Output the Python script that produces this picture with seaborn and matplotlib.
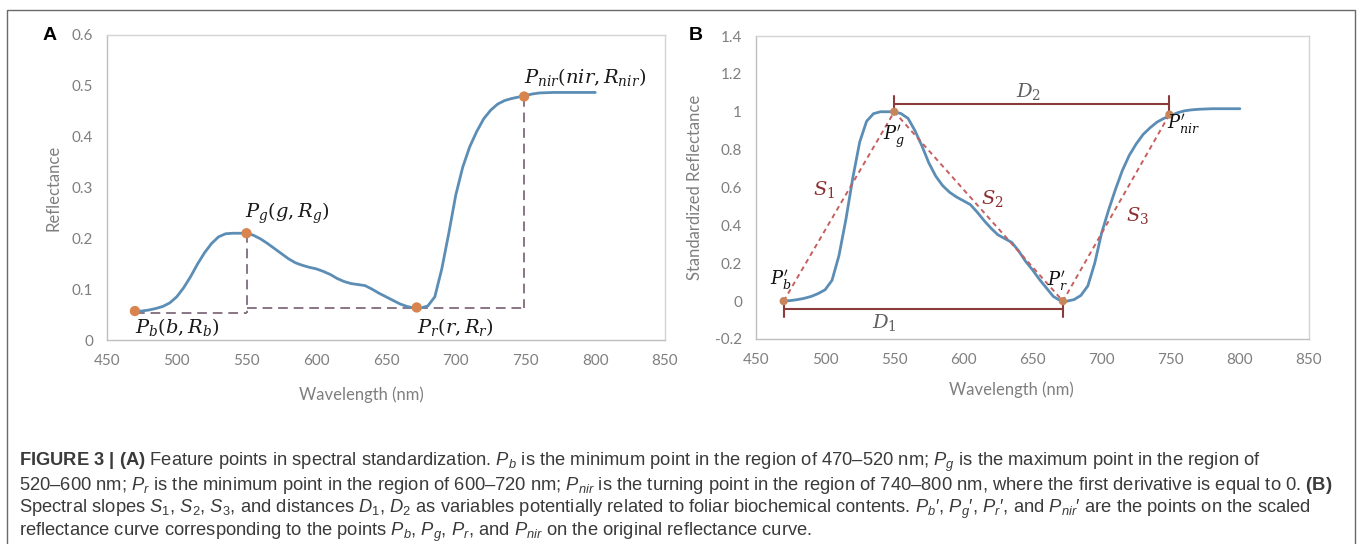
import matplotlib
matplotlib.use("Agg")
import matplotlib.pyplot as plt
import seaborn as sns
from matplotlib.lines import Line2D

# ---------------- data ----------------
wavelength_a = [470, 475, 480, 485, 490, 495, 500, 505, 510, 515, 520, 525, 530, 535, 540, 545,
                550, 555, 560, 565, 570, 575, 580, 585, 590, 595, 600, 605, 610, 615, 620, 625,
                630, 635, 640, 645, 650, 655, 660, 665, 670, 675, 680, 685, 690, 695, 700, 705,
                710, 715, 720, 725, 730, 735, 740, 745, 750, 755, 760, 770, 780, 790, 800]
reflectance_a = [0.057, 0.057, 0.059, 0.062, 0.066, 0.073, 0.085, 0.103, 0.125, 0.15, 0.172,
                 0.19, 0.203, 0.209, 0.21, 0.21, 0.21, 0.206, 0.199, 0.19, 0.18, 0.17, 0.16,
                 0.152, 0.147, 0.143, 0.14, 0.135, 0.129, 0.121, 0.115, 0.111, 0.109, 0.107,
                 0.1, 0.092, 0.085, 0.078, 0.071, 0.066, 0.063, 0.063, 0.067, 0.085, 0.14,
                 0.21, 0.285, 0.34, 0.38, 0.41, 0.435, 0.452, 0.464, 0.471, 0.475, 0.478,
                 0.481, 0.484, 0.486, 0.487, 0.487, 0.487, 0.487]

wavelength_b = [470, 475, 480, 485, 490, 495, 500, 505, 510, 515, 520, 525, 530, 535, 540, 545,
                550, 555, 560, 565, 570, 575, 580, 585, 590, 595, 600, 605, 610, 615, 620, 625,
                630, 635, 640, 645, 650, 655, 660, 665, 670, 675, 680, 685, 690, 695, 700, 705,
                710, 715, 720, 725, 730, 735, 740, 745, 750, 755, 760, 765, 770, 780, 790, 800]
std_reflectance_b = [0.0, 0.003, 0.008, 0.015, 0.025, 0.04, 0.06, 0.11, 0.24, 0.43, 0.65,
                     0.84, 0.95, 0.99, 1.0, 1.0, 1.0, 0.99, 0.965, 0.9, 0.82, 0.73, 0.66,
                     0.61, 0.575, 0.55, 0.53, 0.51, 0.47, 0.425, 0.385, 0.35, 0.33, 0.31,
                     0.265, 0.21, 0.165, 0.115, 0.07, 0.025, 0.003, 0.0, 0.008, 0.03, 0.08,
                     0.2, 0.36, 0.48, 0.59, 0.69, 0.77, 0.83, 0.88, 0.915, 0.945, 0.965,
                     0.98, 0.995, 1.005, 1.01, 1.013, 1.016, 1.016, 1.016]

feature_wl = [470, 550, 672, 749]
feature_refl_a = [0.057, 0.21, 0.064, 0.479]
level_rb = 0.054
level_rr = 0.062
feature_std_b = [0.0, 1.0, 0.0, 0.985]
d1_level = -0.043
d2_level = 1.039

x_ticks = [450, 500, 550, 600, 650, 700, 750, 800, 850]
a_yticks = [0, 0.1, 0.2, 0.3, 0.4, 0.5, 0.6]
a_ylabels = ["0", "0.1", "0.2", "0.3", "0.4", "0.5", "0.6"]
b_yticks = [-0.2, 0, 0.2, 0.4, 0.6, 0.8, 1.0, 1.2, 1.4]
b_ylabels = ["-0.2", "0", "0.2", "0.4", "0.6", "0.8", "1", "1.2", "1.4"]

a_point_labels = [r"$P_b(b,R_b)$", r"$P_g(g,R_g)$", r"$P_r(r,R_r)$", r"$P_{nir}(nir,R_{nir})$"]
a_label_pos = [(470, 0.026), (549, 0.249), (672, 0.026), (749, 0.518)]
b_point_labels = [r"$P_b^{\prime}$", r"$P_g^{\prime}$", r"$P_r^{\prime}$", r"$P_{nir}^{\prime}$"]
b_label_pos = [(468, 0.105), (550, 0.864), (668, 0.106), (759, 0.93)]
slope_labels = [r"$S_1$", r"$S_2$", r"$S_3$"]
slope_pos = [(499, 0.59), (621, 0.54), (726, 0.45)]
dist_labels = [r"$D_1$", r"$D_2$"]
dist_pos = [(543, -0.115), (647, 1.105)]

caption_lines = [
    r"$\mathbf{FIGURE\ 3\ |\ (A)}$ Feature points in spectral standardization. $P_b$ is the minimum point in the region of 470–520 nm; $P_g$ is the maximum point in the region of",
    r"520–600 nm; $P_r$ is the minimum point in the region of 600–720 nm; $P_{nir}$ is the turning point in the region of 740–800 nm, where the first derivative is equal to 0. $\mathbf{(B)}$",
    r"Spectral slopes $S_1$, $S_2$, $S_3$, and distances $D_1$, $D_2$ as variables potentially related to foliar biochemical contents. $P_b$′, $P_g$′, $P_r$′, and $P_{nir}$′ are the points on the scaled",
    r"reflectance curve corresponding to the points $P_b$, $P_g$, $P_r$, and $P_{nir}$ on the original reflectance curve.",
]

# ---------------- style ----------------
sns.set_theme(style="white")
plt.rcParams["font.family"] = ["Lato", "DejaVu Sans"]
plt.rcParams["mathtext.fontset"] = "custom"
plt.rcParams["mathtext.rm"] = "Liberation Sans"
plt.rcParams["mathtext.it"] = "Liberation Sans:italic"
plt.rcParams["mathtext.bf"] = "Liberation Sans:bold"

W, H = 1360, 544
fig = plt.figure(figsize=(13.6, 5.44), dpi=100)
fig.patch.set_facecolor("white")

curve_c = "#5b8db5"
orange = "#d9844e"
tick_c = "#7f7f7f"
spine_c = "#d4d4d4"

def px_axes(l, t, r, b):
    return fig.add_axes([l / W, 1 - b / H, (r - l) / W, (b - t) / H])

axA = px_axes(107, 35, 665, 340)
axB = px_axes(756, 36, 1309, 339)

for ax in (axA, axB):
    ax.set_xlim(450, 850)
    ax.set_xticks(x_ticks)
    ax.set_xticklabels([str(t) for t in x_ticks])
    for s in ax.spines.values():
        s.set_visible(True)
        s.set_color(spine_c)
        s.set_linewidth(1.0)
    ax.spines["left"].set_color("#bfbfbf")
    ax.spines["bottom"].set_color("#bfbfbf")
    ax.tick_params(axis="both", direction="out", length=4, width=1, color="#bfbfbf",
                   labelcolor=tick_c, labelsize=11, pad=6)
    ax.set_facecolor("white")
    ax.grid(False)

# ---- Panel A ----
axA.set_ylim(0, 0.6)
axA.set_yticks(a_yticks)
axA.set_yticklabels(a_ylabels)
sns.lineplot(x=wavelength_a, y=reflectance_a, ax=axA, color=curve_c, linewidth=2.0, zorder=3)
dash_c = "#8a7585"
dkw = dict(color=dash_c, linewidth=1.4, linestyle=(0, (5, 3)), zorder=2)
axA.plot([feature_wl[0], feature_wl[1]], [level_rb, level_rb], **dkw)
axA.plot([feature_wl[1], feature_wl[1]], [feature_refl_a[1], level_rb], **dkw)
axA.plot([feature_wl[1], feature_wl[3]], [level_rr, level_rr], **dkw)
axA.plot([feature_wl[3], feature_wl[3]], [feature_refl_a[3], level_rr], **dkw)
sns.scatterplot(x=feature_wl, y=feature_refl_a, ax=axA, color=orange, s=55,
                edgecolor="none", zorder=5)
for lab, (x, y) in zip(a_point_labels, a_label_pos):
    t = axA.text(x, y, lab, fontsize=14, color="#1a1a1a", ha="left", va="center", zorder=6)
    t.set_math_fontfamily("dejavuserif")
axA.set_xlabel("Wavelength (nm)", fontsize=12, color=tick_c)
axA.set_ylabel("Reflectance", fontsize=12, color=tick_c)
axA.xaxis.set_label_coords(0.455, -0.151)
axA.yaxis.set_label_coords(-0.082, 0.5)

# ---- Panel B ----
axB.set_ylim(-0.2, 1.4)
axB.set_yticks(b_yticks)
axB.set_yticklabels(b_ylabels)
sns.lineplot(x=wavelength_b, y=std_reflectance_b, ax=axB, color=curve_c, linewidth=2.0, zorder=3)
axB.plot(feature_wl, feature_std_b, color="#c65f5f", linewidth=1.4,
         linestyle=(0, (2.5, 2)), zorder=4)
sns.scatterplot(x=feature_wl, y=feature_std_b, ax=axB, color="#c8845a", s=35,
                edgecolor="none", zorder=5)
dline_c = "#8b3b3b"
axB.plot([feature_wl[0], feature_wl[2]], [d1_level, d1_level], color=dline_c, lw=1.5, zorder=4)
axB.plot([feature_wl[1], feature_wl[3]], [d2_level, d2_level], color=dline_c, lw=1.5, zorder=4)
for xv in (feature_wl[0], feature_wl[2]):
    axB.plot([xv, xv], [-0.003, -0.082], color=dline_c, lw=1.5, zorder=4)
for xv in (feature_wl[1], feature_wl[3]):
    axB.plot([xv, xv], [1.083, 0.993], color=dline_c, lw=1.5, zorder=4)
for lab, (x, y) in zip(b_point_labels, b_label_pos):
    t = axB.text(x, y, lab, fontsize=13, color="#111111", ha="center", va="center", zorder=6)
    t.set_math_fontfamily("dejavuserif")
for lab, (x, y) in zip(slope_labels, slope_pos):
    t = axB.text(x, y, lab, fontsize=14, color="#8b3030", ha="center", va="center", zorder=6)
    t.set_math_fontfamily("dejavuserif")
for lab, (x, y) in zip(dist_labels, dist_pos):
    t = axB.text(x, y, lab, fontsize=14, color="#606060", ha="center", va="center", zorder=6)
    t.set_math_fontfamily("dejavuserif")
axB.set_xlabel("Wavelength (nm)", fontsize=12, color=tick_c)
axB.set_ylabel("Standardized Reflectance", fontsize=12, color=tick_c)
axB.xaxis.set_label_coords(0.461, -0.139)
axB.yaxis.set_label_coords(-0.096, 0.5)

# panel letters
fig.text(50 / W, 1 - 35 / H, "A", fontsize=14, fontweight="bold", color="black",
         ha="center", va="center", family=["Liberation Sans", "DejaVu Sans"])
fig.text(696 / W, 1 - 35 / H, "B", fontsize=14, fontweight="bold", color="black",
         ha="center", va="center", family=["Liberation Sans", "DejaVu Sans"])

# caption
baselines = [466.0, 489.5, 513.0, 536.5]
for line, yb in zip(caption_lines, baselines):
    t = fig.text(19 / W, 1 - yb / H, line, fontsize=13.2, color="#3a3a3a", ha="left",
                 va="baseline", family=["Liberation Sans", "DejaVu Sans"])
    t.set_math_fontfamily("custom")

# outer frame (left, top, right; bottom edge lies beyond the image)
fx = [7 / W, 7 / W, 1355 / W, 1355 / W]
fy = [0.0, 1 - 10 / H, 1 - 10 / H, 0.0]
fig.lines.append(Line2D(fx, fy, transform=fig.transFigure, color="#6a6a6a", linewidth=1.0))

fig.savefig("out.png", dpi=100, facecolor="white")
